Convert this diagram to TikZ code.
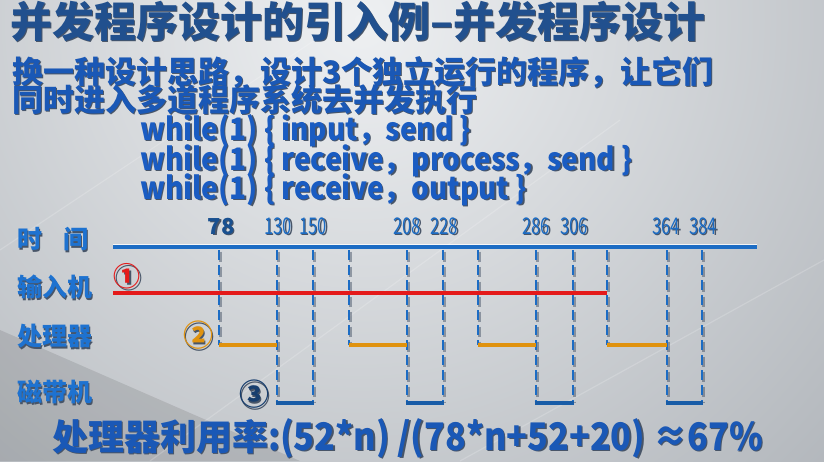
\documentclass[tikz,border=0pt]{standalone}
\usepackage{fontspec}
\setmainfont{Noto Sans CJK SC}
\newfontfamily\condfont{Noto Sans CJK SC}[FakeStretch=0.72]
\newfontfamily\narrowfont{Noto Sans CJK SC}[FakeStretch=0.9]
\usetikzlibrary{calc}

\definecolor{bgmid}{HTML}{A3A8AE}
\definecolor{bglight}{HTML}{EEF0F2}
\definecolor{titleblue}{HTML}{21508E}
\definecolor{textblue}{HTML}{1A58B6}
\definecolor{codeblue}{HTML}{1A5CC2}
\definecolor{lblblue}{HTML}{1E72D0}
\definecolor{axisblue}{HTML}{1C6CC4}
\definecolor{shadowc}{HTML}{0B1C36}
\definecolor{redline}{HTML}{E41A1A}
\definecolor{orangeline}{HTML}{E0920E}
\definecolor{navy}{HTML}{173E6E}

% text with a dark drop shadow behind it
\newcommand{\dropshadow}[1]{\makebox[0pt][l]{\hspace{1.5pt}\raisebox{-1.5pt}{\color{shadowc!75}#1}}#1}

\tikzset{
  txt/.style={anchor=west, inner sep=0pt, font=\bfseries},
  lbl/.style={txt, text=lblblue, font=\fontsize{25}{25}\selectfont\bfseries},
  num/.style={inner sep=0pt, text=axisblue, font=\condfont\fontsize{23}{23}\selectfont},
  tick/.style={axisblue, line width=2.6pt, dash pattern=on 10pt off 5pt},
  tickshadow/.style={shadowc, opacity=0.35, line width=2.6pt, dash pattern=on 10pt off 5pt},
  cpu/.style={orangeline, line width=3.5pt},
  tape/.style={axisblue!85!black, line width=3.5pt},
}

\begin{document}
\begin{tikzpicture}[x=1pt, y=-1pt]
  \useasboundingbox (0,0) rectangle (824,461);
  % brushed metal backdrop
  \begin{scope}
    \clip (0,0) rectangle (824,461);
    \shade[inner color=bglight, outer color=bgmid] (360,20) circle (820);
    \fill[black, opacity=0.10] (0,330) -- (0,461) -- (300,461) -- cycle;
    \foreach \a/\b/\c/\d in {0/250/330/30, 150/461/620/120, 460/461/824/260}
      \draw[white, opacity=0.18, line width=1.2pt] (\a,\b) -- (\c,\d);
  \end{scope}

  % title and description
  \node[txt, text=titleblue, font=\fontsize{42}{42}\selectfont\bfseries] (title) at (10,22)
    {\dropshadow{并发程序设计的引入例–并发程序设计}};
  \node[txt, text=textblue, font=\fontsize{31}{31}\selectfont\bfseries] (line1) at (12,73)
    {\dropshadow{换一种设计思路，设计3个独立运行的程序，让它们}};
  \node[txt, text=textblue, font=\fontsize{31}{31}\selectfont\bfseries] (line2) at (12,100)
    {\dropshadow{同时进入多道程序系统去并发执行}};

  % the three programs
  \node[txt, text=codeblue, font=\narrowfont\fontsize{31}{31}\selectfont\bfseries] (prog1) at (140,131)
    {\dropshadow{while(1) \{ input，send \}}};
  \node[txt, text=codeblue, font=\narrowfont\fontsize{31}{31}\selectfont\bfseries] (prog2) at (140,161)
    {\dropshadow{while(1) \{ receive，process，send \}}};
  \node[txt, text=codeblue, font=\narrowfont\fontsize{31}{31}\selectfont\bfseries] (prog3) at (140,190)
    {\dropshadow{while(1) \{ receive，output \}}};

  % row labels
  \node[lbl] (ltime) at (17,240) {\dropshadow{时\hspace{0.85em}间}};
  \node[lbl] (lin)   at (17,288) {\dropshadow{输入机}};
  \node[lbl] (lcpu)  at (17,337) {\dropshadow{处理器}};
  \node[lbl] (ltape) at (17,393) {\dropshadow{磁带机}};

  % time axis
  \coordinate (axs) at (113,247);
  \coordinate (axe) at (757,247);
  \draw[white, opacity=0.8, line width=1.5pt] ($(axs)+(0,-2.5)$) -- ($(axe)+(0,-2.5)$);
  \draw[axisblue, line width=3.5pt] (axs) -- (axe);

  % time marks
  \node[num, text=navy!60!axisblue, font=\fontsize{22}{22}\selectfont\bfseries] (n78) at (221,227) {\dropshadow{78}};
  \foreach \v/\x in {130/278, 150/313, 208/407, 228/444, 286/536, 306/574, 364/666, 384/703}
    \node[num] (n\v) at (\x,227) {\dropshadow{\v}};

  % processor and tape busy periods
  \foreach \s/\e/\t [count=\i] in {219/277/313, 349/407/443, 478/536/573, 607/667/702} {
    \coordinate (ps\i) at (\s,250); \coordinate (pb\i) at (\s,345);
    \coordinate (pe\i) at (\e,250); \coordinate (pf\i) at (\e,345);
    \coordinate (tb\i) at (\e,403);
    \coordinate (te\i) at (\t,250); \coordinate (tf\i) at (\t,403);
    \draw[tickshadow] ($(ps\i)+(1.5,1.5)$) -- ($(pb\i)+(1.5,0)$);
    \draw[tickshadow] ($(pe\i)+(1.5,1.5)$) -- ($(tb\i)+(1.5,0)$);
    \draw[tickshadow] ($(te\i)+(1.5,1.5)$) -- ($(tf\i)+(1.5,0)$);
    \draw[tick] (ps\i) -- (pb\i);
    \draw[tick] (pe\i) -- (tb\i);
    \draw[tick] (te\i) -- (tf\i);
    \draw[cpu] (pb\i) -- (pf\i);
    \draw[tape] ($(tb\i)+(-1.3,0)$) -- ($(tf\i)+(1.3,0)$);
  }

  % input device runs continuously
  \coordinate (rs) at (113,293);
  \coordinate (re) at (607,293);
  \draw[redline, line width=4pt] (rs) -- (re);

  % circled markers
  \node[inner sep=0pt, text=redline, font=\fontsize{27}{27}\selectfont\bfseries] (c1) at (127,277) {\dropshadow{①}};
  \node[inner sep=0pt, text=orangeline, font=\fontsize{30}{30}\selectfont\bfseries] (c2) at (198,336) {\dropshadow{②}};
  \node[inner sep=0pt, text=navy, font=\fontsize{30}{30}\selectfont\bfseries] (c3) at (254,395) {\dropshadow{③}};

  % utilisation formula
  \node[txt, text=textblue, font=\fontsize{36}{36}\selectfont\bfseries] (util) at (52,439)
    {\dropshadow{处理器利用率{\narrowfont\fontsize{38}{38}\selectfont :(52*n) /(78*n+52+20) ≈67\%}}};
\end{tikzpicture}
\end{document}
